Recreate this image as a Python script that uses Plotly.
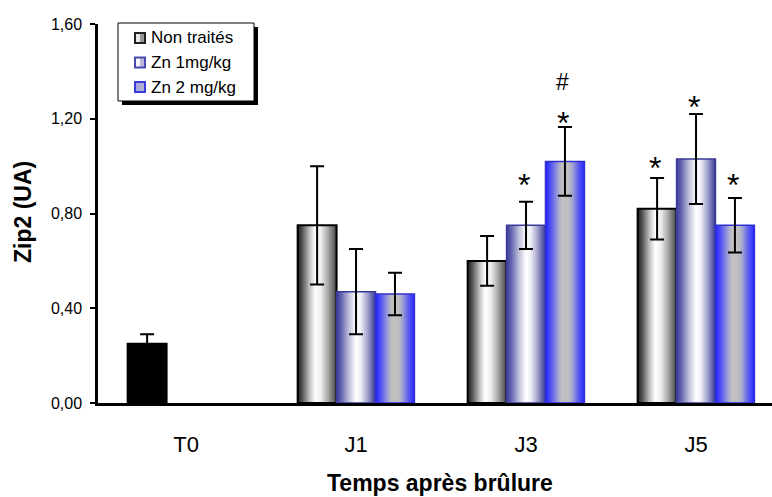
import plotly.graph_objects as go

# ---- data -------------------------------------------------------------
categories = ["T0", "J1", "J3", "J5"]
groups = ["Non traités", "Zn 1mg/kg", "Zn 2 mg/kg"]

untreated = [0.25, 0.75, 0.60, 0.82]
untreated_sd = [0.04, 0.25, 0.105, 0.13]
zn1 = [None, 0.47, 0.75, 1.03]
zn1_sd = [None, 0.18, 0.10, 0.19]
zn2 = [None, 0.46, 1.02, 0.75]
zn2_sd = [None, 0.09, 0.145, 0.115]

# significance marks: category, group index, symbol, label height (UA)
mark_cat = ["J3", "J3", "J3", "J5", "J5", "J5"]
mark_grp = [1, 2, 2, 0, 1, 2]
mark_sym = ["*", "*", "#", "*", "*", "*"]
mark_y = [0.941, 1.203, 1.354, 1.013, 1.271, 0.941]

y_ticks = [0.0, 0.4, 0.8, 1.2, 1.6]

# ---- styles -----------------------------------------------------------
FONT = "Liberation Sans, Arial, sans-serif"
BAR_W = 0.229  # width of one bar, in category units

grey_scale = [[0, "#1a1a1a"], [0.12, "#555555"], [0.3, "#bdbdbd"], [0.45, "#ffffff"],
              [0.6, "#ededed"], [0.78, "#a8a8a8"], [0.92, "#6a6a6a"], [1, "#3a3a3a"]]
zn1_scale = [[0, "#3c3c9a"], [0.12, "#6464b0"], [0.3, "#b8b8d8"], [0.5, "#ffffff"],
             [0.62, "#f0f0f8"], [0.8, "#a0a0cc"], [0.92, "#6060aa"], [1, "#3c3c96"]]
zn2_scale = [[0, "#2222ff"], [0.15, "#5858f0"], [0.33, "#a4a4d4"], [0.42, "#c0c0c0"],
             [0.58, "#c0c0c0"], [0.68, "#a8a8d0"], [0.85, "#5a5af0"], [1, "#2828ff"]]

series = [
    (untreated, untreated_sd, grey_scale, "#000000", 2.0),
    (zn1, zn1_sd, zn1_scale, "#3a3a9a", 1.5),
    (zn2, zn2_sd, zn2_scale, "#3030d0", 1.5),
]

fig = go.Figure()


def bar_center(cat_index, grp):
    return cat_index + (grp - 1) * BAR_W


# shaded bars: one filled outline per bar so each gets its own gradient
for g, (vals, sds, scale, line_color, lw) in enumerate(series):
    for i, v in enumerate(vals):
        if v is None:
            continue
        xc = bar_center(i, g)
        x0, x1 = xc - BAR_W / 2, xc + BAR_W / 2
        trace = dict(
            x=[x0, x0, x1, x1, x0], y=[0, v, v, 0, 0],
            mode="lines", fill="toself",
            line=dict(color=line_color, width=lw),
            showlegend=False, hoverinfo="skip",
        )
        if categories[i] == "T0":
            trace["fillcolor"] = "#000000"
        else:
            trace["fillgradient"] = dict(type="horizontal", colorscale=scale)
        fig.add_trace(go.Scatter(**trace))

# error bars
for g, (vals, sds, scale, line_color, lw) in enumerate(series):
    xs, ys, es = [], [], []
    for i, (v, e) in enumerate(zip(vals, sds)):
        if v is None:
            continue
        xs.append(bar_center(i, g))
        ys.append(v)
        es.append(e)
    fig.add_trace(go.Scatter(
        x=xs, y=ys, mode="markers",
        marker=dict(size=1, color="rgba(0,0,0,0)"),
        error_y=dict(type="data", array=es, color="#000000", thickness=2, width=7),
        showlegend=False, hoverinfo="skip",
    ))

annotations = []
for c, g, s, y in zip(mark_cat, mark_grp, mark_sym, mark_y):
    star = s == "*"
    annotations.append(dict(
        x=bar_center(categories.index(c), g) - 0.012, y=y, xref="x", yref="y",
        text=s, showarrow=False,
        font=dict(family=FONT, size=32 if star else 23, color="#000000"),
        yshift=-5 if star else 0,
    ))

# ---- axes & titles ----------------------------------------------------
L, T, R, B = 98, 24, 0, 94
PW, PH = 772 - L - R, 497 - T - B


def px(x):
    return (x - L) / PW


def py(y):
    return (497 - B - y) / PH


annotations.append(dict(
    x=px(440), y=py(497), xref="paper", yref="paper", showarrow=False,
    xanchor="center", yanchor="bottom", borderpad=0,
    text="<b>Temps après brûlure</b>", font=dict(family=FONT, size=23, color="#000")))
annotations.append(dict(
    x=px(23), y=py(212), xref="paper", yref="paper", showarrow=False, textangle=-90,
    xanchor="center", yanchor="middle",
    text="<b>Zip2 (UA)</b>", font=dict(family=FONT, size=23, color="#000")))

# ---- legend box ---------------------------------------------------------
shapes = []
shapes.append(dict(type="rect", xref="paper", yref="paper",
                   x0=px(122), x1=px(258), y0=py(105), y1=py(27),
                   fillcolor="#000", line=dict(width=0), layer="above"))
shapes.append(dict(type="rect", xref="paper", yref="paper",
                   x0=px(118), x1=px(254), y0=py(101), y1=py(23),
                   fillcolor="#fff", line=dict(color="#000", width=1), layer="above"))

swatches = [
    ("#222222", "#e8e8e8", "#9a9a9a"),
    ("#4848b0", "#f4f4fa", "#b8b8d8"),
    ("#3a3ae0", "#a8a8d8", "#b0b0c8"),
]
row_y = [38, 62.5, 87]
for (edge, left, right), yc, name in zip(swatches, row_y, groups):
    sx0, sx1 = 134, 146
    sy0, sy1 = yc - 6, yc + 6
    shapes.append(dict(type="rect", xref="paper", yref="paper",
                       x0=px(sx0), x1=px(sx1), y0=py(sy1), y1=py(sy0),
                       fillcolor=edge, line=dict(width=0), layer="above"))
    shapes.append(dict(type="rect", xref="paper", yref="paper",
                       x0=px(sx0 + 2), x1=px(140), y0=py(sy1 - 2), y1=py(sy0 + 2),
                       fillcolor=left, line=dict(width=0), layer="above"))
    shapes.append(dict(type="rect", xref="paper", yref="paper",
                       x0=px(140), x1=px(sx1 - 2), y0=py(sy1 - 2), y1=py(sy0 + 2),
                       fillcolor=right, line=dict(width=0), layer="above"))
    annotations.append(dict(
        x=px(149), y=py(yc), xref="paper", yref="paper", showarrow=False,
        xanchor="left", yanchor="middle", text=name,
        font=dict(family=FONT, size=17, color="#000")))

fig.update_layout(
    width=772, height=497,
    margin=dict(l=L, r=R, t=T, b=B, pad=0),
    paper_bgcolor="#ffffff", plot_bgcolor="#ffffff",
    separators=",.",
    font=dict(family=FONT, color="#000"),
    showlegend=False,
    annotations=annotations,
    shapes=shapes,
    xaxis=dict(
        range=[-0.518, 3.447], tickvals=list(range(len(categories))), ticktext=categories,
        showline=True, linecolor="#000", linewidth=3, ticks="",
        showgrid=False, zeroline=False,
        tickfont=dict(family=FONT, size=22, color="#000"), ticklabelstandoff=20,
    ),
    yaxis=dict(
        range=[0, 1.6], tickvals=y_ticks, tickformat=".2f",
        showline=True, linecolor="#000", linewidth=2.5,
        ticks="outside", ticklen=5, tickwidth=2, tickcolor="#000",
        showgrid=False, zeroline=False,
        tickfont=dict(family=FONT, size=16, color="#000"), ticklabelstandoff=5,
    ),
)

fig.write_html("out.html")
